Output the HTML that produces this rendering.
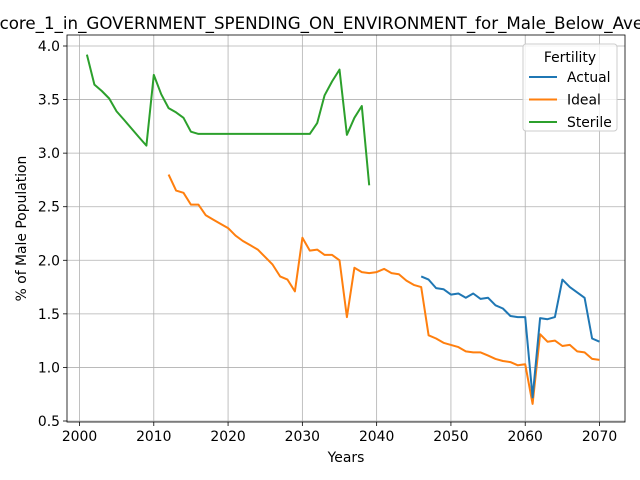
<!DOCTYPE html>
<html><head><meta charset="utf-8"><style>body{margin:0;background:#fff}svg{display:block;font-family:"DejaVu Sans","Liberation Sans",sans-serif}</style></head>
<body>
<svg id="c" width="640" height="480"></svg>
<script>
const sterileYears=[2001,2002,2003,2004,2005,2006,2007,2008,2009,2010,2011,2012,2013,2014,2015,2016,2017,2018,2019,2020,2021,2022,2023,2024,2025,2026,2027,2028,2029,2030,2031,2032,2033,2034,2035,2036,2037,2038,2039];
const sterileVals=[3.92,3.64,3.58,3.51,3.39,3.31,3.23,3.15,3.07,3.73,3.55,3.42,3.38,3.33,3.20,3.18,3.18,3.18,3.18,3.18,3.18,3.18,3.18,3.18,3.18,3.18,3.18,3.18,3.18,3.18,3.18,3.28,3.54,3.67,3.78,3.17,3.33,3.44,2.70];
const idealStart=2012;
const idealVals=[2.80,2.65,2.63,2.52,2.52,2.42,2.38,2.34,2.30,2.23,2.18,2.14,2.10,2.03,1.96,1.85,1.82,1.71,2.21,2.09,2.10,2.05,2.05,2.00,1.47,1.93,1.89,1.88,1.89,1.92,1.88,1.87,1.81,1.77,1.75,1.30,1.27,1.23,1.21,1.19,1.15,1.14,1.14,1.11,1.08,1.06,1.05,1.02,1.03,0.66,1.31,1.24,1.25,1.20,1.21,1.15,1.14,1.08,1.07];
const actualStart=2046;
const actualVals=[1.85,1.82,1.74,1.73,1.68,1.69,1.65,1.69,1.64,1.65,1.58,1.55,1.48,1.47,1.47,0.72,1.46,1.45,1.47,1.82,1.75,1.70,1.65,1.27,1.24];
const xTicks=[2000,2010,2020,2030,2040,2050,2060,2070];
const yTicks=[0.5,1.0,1.5,2.0,2.5,3.0,3.5,4.0];

const L=67,R=625,T=35,B=422;
const xs=v=>79.5+(v-2000)*(599.5-79.5)/70;
const ys=v=>421-(v-0.5)*(421-46)/3.5;
const svg=document.getElementById('c');
const NS='http://www.w3.org/2000/svg';
function mk(tag,at,txt){const e=document.createElementNS(NS,tag);for(const k in at)e.setAttribute(k,at[k]);if(txt!==undefined)e.textContent=txt;svg.appendChild(e);return e;}

xTicks.forEach(t=>{
  const g=mk('line',{x1:xs(t),x2:xs(t),y1:T,y2:B,stroke:'#b0b0b0','stroke-width':0.8});
  
  
  mk('line',{x1:xs(t),x2:xs(t),y1:B,y2:B+4,stroke:'#000','stroke-width':0.8});
  const l=mk('text',{x:xs(t),y:B+19,'text-anchor':'middle','font-size':13.9},t);
  
  
});
yTicks.forEach(t=>{
  const g=mk('line',{x1:L,x2:R,y1:ys(t),y2:ys(t),stroke:'#b0b0b0','stroke-width':0.8});
  
  
  mk('line',{x1:L-4,x2:L,y1:ys(t),y2:ys(t),stroke:'#000','stroke-width':0.8});
  const l=mk('text',{x:L-7,y:ys(t)+5,'text-anchor':'end','font-size':13.9},t.toFixed(1));
  
  
});
function series(xArr,vals,color,name){
  const d=vals.map((v,i)=>(i?'L':'M')+xs(xArr[i]).toFixed(1)+','+ys(v).toFixed(1)).join('');
  const p=mk('path',{d:d,fill:'none',stroke:color,'stroke-width':2,'stroke-linejoin':'round'});
  
  
}
series(sterileYears,sterileVals,'#2ca02c','sterile-line');
series(idealVals.map((_,i)=>idealStart+i),idealVals,'#ff7f0e','ideal-line');
series(actualVals.map((_,i)=>actualStart+i),actualVals,'#1f77b4','actual-line');
const fr=mk('rect',{x:L,y:T,width:R-L,height:B-T,fill:'none',stroke:'#000','stroke-width':0.8});


const ti=mk('text',{x:-11,y:29,'font-size':16.67},'Score_1_in_GOVERNMENT_SPENDING_ON_ENVIRONMENT_for_Male_Below_Average_Income');


const xl=mk('text',{x:(L+R)/2,y:462,'text-anchor':'middle','font-size':13.9},'Years');


const yl=mk('text',{x:0,y:0,'text-anchor':'middle','font-size':13.9,transform:'translate(26,'+((T+B)/2)+') rotate(-90)'},'% of Male Population');


const lg=mk('rect',{x:523,y:44,width:94,height:87,rx:3,fill:'#fff','fill-opacity':0.8,stroke:'#ccc'});


mk('text',{x:570,y:62,'text-anchor':'middle','font-size':13.9},'Fertility');
[['Actual','#1f77b4'],['Ideal','#ff7f0e'],['Sterile','#2ca02c']].forEach((e,i)=>{
  const y=77+i*22.5;
  const ln=mk('line',{x1:529,x2:557,y1:y,y2:y,stroke:e[1],'stroke-width':2});
  
  
  mk('text',{x:567,y:y+5,'font-size':13.9},e[0]);
});
</script>
</body></html>
